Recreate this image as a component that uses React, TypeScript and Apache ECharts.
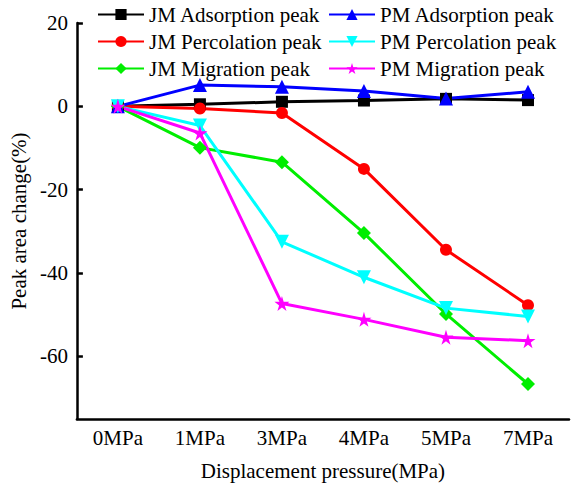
import React, { useEffect, useRef } from "react";
import * as echarts from "echarts";

const categories = ["0MPa", "1MPa", "3MPa", "4MPa", "5MPa", "7MPa"];
const yTicks = [20, 0, -20, -40, -60];

const jmAdsorption = [0, 0.5, 1.1, 1.4, 1.8, 1.5];
const jmPercolation = [0, -0.5, -1.6, -15.0, -34.4, -47.7];
const jmMigration = [0, -9.9, -13.4, -30.4, -49.8, -66.6];
const pmAdsorption = [0, 5.1, 4.7, 3.7, 1.9, 3.5];
const pmPercolation = [0, -4.6, -32.5, -41.0, -48.4, -50.4];
const pmMigration = [0, -6.4, -47.3, -51.1, -55.4, -56.2];

const FONT = "'Liberation Serif', 'Times New Roman', serif";
const FS = 21;
const STAR =
  "path://M50,0 L61,35 L98,35 L68,57 L79,91 L50,70 L21,91 L32,57 L2,35 L39,35 Z";
const DOWN_TRIANGLE = "path://M0,0 L10,0 L5,9 Z";

const seriesDefs = [
  { name: "JM Adsorption peak", data: jmAdsorption, color: "#000000", symbol: "rect", size: 12 },
  { name: "JM Percolation peak", data: jmPercolation, color: "#ff0000", symbol: "circle", size: 12 },
  { name: "JM Migration peak", data: jmMigration, color: "#00ee00", symbol: "diamond", size: 14 },
  { name: "PM Adsorption peak", data: pmAdsorption, color: "#0000ff", symbol: "triangle", size: 14 },
  { name: "PM Percolation peak", data: pmPercolation, color: "#00ffff", symbol: DOWN_TRIANGLE, size: 14 },
  { name: "PM Migration peak", data: pmMigration, color: "#ff00ff", symbol: STAR, size: 15 },
];

export default function App() {
  const ref = useRef<HTMLDivElement>(null);

  useEffect(() => {
    document.body.style.margin = "0";
    if (!ref.current) return;
    const chart = echarts.init(ref.current, null, { renderer: "svg" });

    const legendCommon = {
      orient: "vertical" as const,
      top: 4,
      padding: 0,
      itemWidth: 46,
      itemHeight: 14,
      itemGap: 6,
      textStyle: { fontFamily: FONT, fontSize: FS, color: "#000", lineHeight: 20.5 },
    };

    chart.setOption({
      animation: false,
      backgroundColor: "#ffffff",
      grid: { left: 76, right: 2, top: 23, bottom: 64, containLabel: false },
      legend: [
        { ...legendCommon, left: 97, data: seriesDefs.slice(0, 3).map((s) => s.name) },
        { ...legendCommon, left: 328, data: seriesDefs.slice(3).map((s) => s.name) },
      ],
      xAxis: {
        type: "category",
        data: categories,
        boundaryGap: true,
        name: "Displacement pressure(MPa)",
        nameLocation: "middle",
        nameGap: 41,
        nameTextStyle: { fontFamily: FONT, fontSize: FS, color: "#000" },
        axisLine: { onZero: false, lineStyle: { color: "#000", width: 2.5 } },
        axisTick: { alignWithLabel: true, inside: true, length: 8, lineStyle: { color: "#000", width: 2.5 } },
        axisLabel: { fontFamily: FONT, fontSize: FS, color: "#000", margin: 8 },
        splitLine: { show: false },
      },
      yAxis: {
        type: "value",
        min: -75,
        max: 20,
        name: "Peak area change(%)",
        nameLocation: "middle",
        nameGap: 37,
        nameTextStyle: { fontFamily: FONT, fontSize: FS, color: "#000" },
        axisLine: { show: true, lineStyle: { color: "#000", width: 2.5 } },
        axisTick: { show: true, inside: true, length: 6, customValues: yTicks, lineStyle: { color: "#000", width: 2.5 } },
        axisLabel: { fontFamily: FONT, fontSize: FS, color: "#000", margin: 9, customValues: yTicks },
        splitLine: { show: false },
      },
      series: seriesDefs.map((s) => ({
        name: s.name,
        type: "line",
        data: s.data,
        symbol: s.symbol,
        symbolSize: s.size,
        showAllSymbol: true,
        lineStyle: { color: s.color, width: 3 },
        itemStyle: { color: s.color },
      })),
    });

    return () => chart.dispose();
  }, []);

  return <div ref={ref} style={{ width: 571, height: 486 }} />;
}
